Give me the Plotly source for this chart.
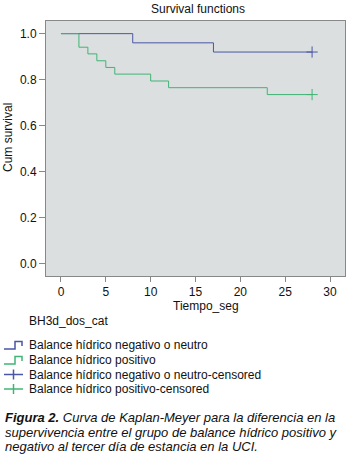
import plotly.graph_objects as go

# ---- data ----
blue_name = "Balance hídrico negativo o neutro"
green_name = "Balance hídrico positivo"
blue_times = [0, 8, 17, 28]
blue_surv = [1.0, 0.96, 0.92, 0.92]
green_times = [0, 2, 3, 4, 5, 6, 10, 12, 23, 28]
green_surv = [1.0, 0.941, 0.912, 0.882, 0.853, 0.824, 0.794, 0.765, 0.735, 0.735]
blue_cens_t = [28]
blue_cens_s = [0.92]
green_cens_t = [28]
green_cens_s = [0.735]
x_ticks = [0, 5, 10, 15, 20, 25, 30]
y_ticks = [0.0, 0.2, 0.4, 0.6, 0.8, 1.0]
caption_lines = [
    "<b>Figura 2.</b> Curva de Kaplan-Meyer para la diferencia en la",
    "supervivencia entre el grupo de balance hídrico positivo y",
    "negativo al tercer día de estancia en la UCI.",
]

BLUE = "#4a56a6"
GREEN = "#40b474"
FONT = "Liberation Sans, Arial, sans-serif"
TXT = "#111111"

W, H = 347, 460
L, R, T, B = 46, 345, 21, 276  # plot area in px


def px(x):
    return (x - L) / (R - L)


def py(y):
    return (B - y) / (B - T)


fig = go.Figure()
fig.add_trace(go.Scatter(x=blue_times, y=blue_surv, mode="lines", line_shape="hv",
                         line=dict(color=BLUE, width=1), showlegend=False))
fig.add_trace(go.Scatter(x=green_times, y=green_surv, mode="lines", line_shape="hv",
                         line=dict(color=GREEN, width=1), showlegend=False))
fig.add_trace(go.Scatter(x=blue_cens_t, y=blue_cens_s, mode="markers",
                         marker=dict(symbol="cross-thin", size=8, line=dict(color=BLUE, width=1)),
                         showlegend=False))
fig.add_trace(go.Scatter(x=green_cens_t, y=green_cens_s, mode="markers",
                         marker=dict(symbol="cross-thin", size=8, line=dict(color=GREEN, width=1)),
                         showlegend=False))

shapes = []
ann = []

# title & axis titles
ann.append(dict(text="Survival functions", x=px(198), y=py(9), xref="paper", yref="paper",
                showarrow=False, font=dict(size=12, color=TXT), xanchor="center", yanchor="middle"))
ann.append(dict(text="Cum survival", x=px(8), y=py(138), xref="paper", yref="paper", textangle=-90,
                showarrow=False, font=dict(size=12, color=TXT), xanchor="center", yanchor="middle"))
ann.append(dict(text="Tiempo_seg", x=px(206), y=py(306), xref="paper", yref="paper",
                showarrow=False, font=dict(size=12, color=TXT), xanchor="center", yanchor="middle"))
ann.append(dict(text="BH3d_dos_cat", x=px(27), y=py(321), xref="paper", yref="paper",
                showarrow=False, font=dict(size=12, color=TXT), xanchor="left", yanchor="middle"))

# legend
legend_items = [
    (blue_name, BLUE, "step", 345),
    (green_name, GREEN, "step", 360),
    (blue_name + "-censored", BLUE, "cross", 374.5),
    (green_name + "-censored", GREEN, "cross", 389),
]
for text, col, kind, yc in legend_items:
    ann.append(dict(text=text, x=px(27), y=py(yc), xref="paper", yref="paper",
                    showarrow=False, font=dict(size=12, color=TXT), xanchor="left", yanchor="middle"))
    if kind == "step":
        path = "M {},{} L {},{} L {},{} L {},{} L {},{}".format(
            px(4), py(yc + 4), px(15), py(yc + 4), px(15), py(yc - 3.5),
            px(22), py(yc - 3.5), px(22), py(yc + 1))
        shapes.append(dict(type="path", path=path, xref="paper", yref="paper",
                           line=dict(color=col, width=1.5)))
    else:
        shapes.append(dict(type="line", x0=px(4), x1=px(23), y0=py(yc), y1=py(yc),
                           xref="paper", yref="paper", line=dict(color=col, width=1.5)))
        shapes.append(dict(type="line", x0=px(13.5), x1=px(13.5), y0=py(yc - 5), y1=py(yc + 5),
                           xref="paper", yref="paper", line=dict(color=col, width=1.5)))

# caption (one annotation per line for exact spacing)
for i, line in enumerate(caption_lines):
    ann.append(dict(text="<i>" + line + "</i>", x=px(3), y=py(417 + 15 * i), xref="paper", yref="paper",
                    showarrow=False, font=dict(size=13, color=TXT), xanchor="left",
                    yanchor="middle", align="left"))

fig.update_layout(
    width=W, height=H,
    margin=dict(l=L, r=W - R, t=T, b=H - B, pad=0),
    paper_bgcolor="white",
    plot_bgcolor="#dbdfe0",
    font=dict(family=FONT, size=12, color=TXT),
    showlegend=False,
    shapes=shapes,
    annotations=ann,
    xaxis=dict(range=[-1.67, 31.67], tickvals=x_ticks, ticks="outside", ticklen=5,
               tickcolor="#888", showline=True, linecolor="#888", mirror=True,
               showgrid=False, zeroline=False, tickfont=dict(size=12)),
    yaxis=dict(range=[-0.054, 1.055], tickvals=y_ticks, tickformat=".1f", ticks="outside",
               ticklen=6, tickcolor="#888", showline=True, linecolor="#888", mirror=True,
               showgrid=False, zeroline=False, tickfont=dict(size=12)),
)

fig.write_html("out.html", config={"displayModeBar": False},
               post_script="document.body.style.margin='0px';document.body.style.overflow='hidden';")
